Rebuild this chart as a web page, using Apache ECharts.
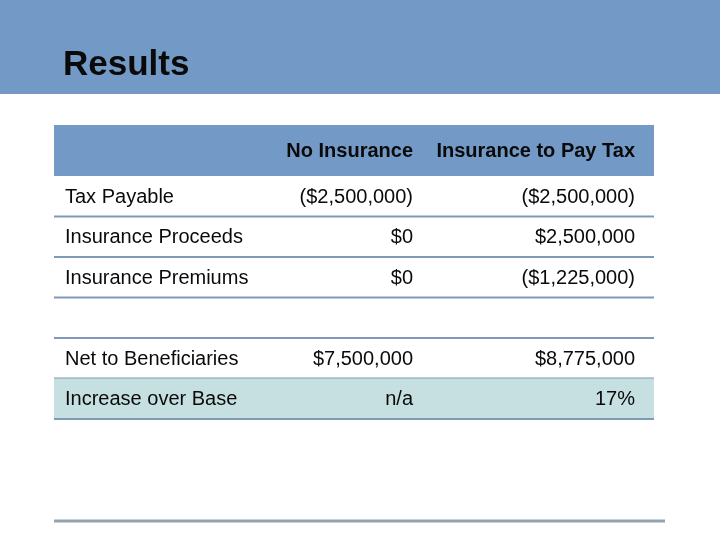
<!DOCTYPE html>
<html>
<head>
<meta charset="utf-8">
<script src="https://cdn.jsdelivr.net/npm/echarts@6/dist/echarts.min.js"></script>
<style>
  html, body { margin: 0; padding: 0; background: #fff; }
  #chart { width: 720px; height: 540px; }
</style>
</head>
<body>
<div id="chart"></div>
<script>
const columnHeaders = ["No Insurance", "Insurance to Pay Tax"];
const rowLabels = [
  "Tax Payable",
  "Insurance Proceeds",
  "Insurance Premiums",
  "",
  "Net to Beneficiaries",
  "Increase over Base",
];
const noInsurance = ["($2,500,000)", "$0", "$0", "", "$7,500,000", "n/a"];
const insuranceToPayTax = ["($2,500,000)", "$2,500,000", "($1,225,000)", "", "$8,775,000", "17%"];
const highlightRow = "Increase over Base";

const BLUE = "#739AC6";
const RULE = "#7F9AB8";
const TEAL = "#C6DFE0";
const FONT = "'Liberation Sans', Arial, sans-serif";

const chart = echarts.init(document.getElementById("chart"));

function renderRow(params, api) {
  const idx = api.value(0);
  const cs = params.coordSys;
  const center = api.coord([0, idx]);
  const h = api.size([0, 1])[1];
  const top = center[1] - h / 2;
  const bottom = center[1] + h / 2;
  const children = [];

  if (rowLabels[idx] === highlightRow) {
    children.push({
      type: "rect",
      shape: { x: cs.x, y: top, width: cs.width, height: h },
      style: { fill: TEAL },
    });
  }
  children.push({
    type: "line",
    shape: { x1: cs.x, y1: bottom, x2: cs.x + cs.width, y2: bottom },
    style: { stroke: RULE, lineWidth: 2 },
  });
  const textStyle = { fill: "#0a0a0a", font: "20px " + FONT, textVerticalAlign: "middle" };
  const ty = center[1] + 1;
  children.push({
    type: "text",
    style: Object.assign({}, textStyle, { text: rowLabels[idx], x: cs.x + 11, y: ty, textAlign: "left" }),
  });
  children.push({
    type: "text",
    style: Object.assign({}, textStyle, { text: noInsurance[idx], x: cs.x + 359, y: ty, textAlign: "right" }),
  });
  children.push({
    type: "text",
    style: Object.assign({}, textStyle, { text: insuranceToPayTax[idx], x: cs.x + 581, y: ty, textAlign: "right" }),
  });

  // header band sits on top of the first row
  if (idx === 0) {
    const hh = 51;
    children.push({
      type: "rect",
      shape: { x: cs.x, y: top - hh, width: cs.width, height: hh },
      style: { fill: BLUE },
    });
    const headStyle = { fill: "#0a0a0a", font: "bold 20px " + FONT, textVerticalAlign: "middle", textAlign: "right" };
    children.push({
      type: "text",
      style: Object.assign({}, headStyle, { text: columnHeaders[0], x: cs.x + 359, y: top - hh / 2 + 1 }),
    });
    children.push({
      type: "text",
      style: Object.assign({}, headStyle, { text: columnHeaders[1], x: cs.x + 581, y: top - hh / 2 + 1 }),
    });
  }
  return { type: "group", children };
}

chart.setOption({
  animation: false,
  title: {
    text: "Results",
    left: 58,
    top: 43,
    textStyle: { fontFamily: FONT, fontSize: 35, fontWeight: "bold", color: "#0a0a0a" },
  },
  graphic: [
    {
      type: "rect",
      z: -1,
      shape: { x: 0, y: 0, width: 720, height: 94 },
      style: { fill: BLUE },
    },
    {
      type: "line",
      shape: { x1: 54, y1: 521, x2: 665, y2: 521 },
      style: { stroke: "#95A3AF", lineWidth: 3 },
    },
  ],
  grid: { left: 54, top: 176, width: 600, height: 243 },
  xAxis: { type: "value", min: 0, max: 1, show: false },
  yAxis: {
    type: "category",
    data: rowLabels.map((_, i) => String(i)),
    inverse: true,
    show: false,
  },
  series: [
    {
      type: "custom",
      renderItem: renderRow,
      data: rowLabels.map((_, i) => [i]),
      encode: { y: 0 },
    },
  ],
});
</script>
</body>
</html>
